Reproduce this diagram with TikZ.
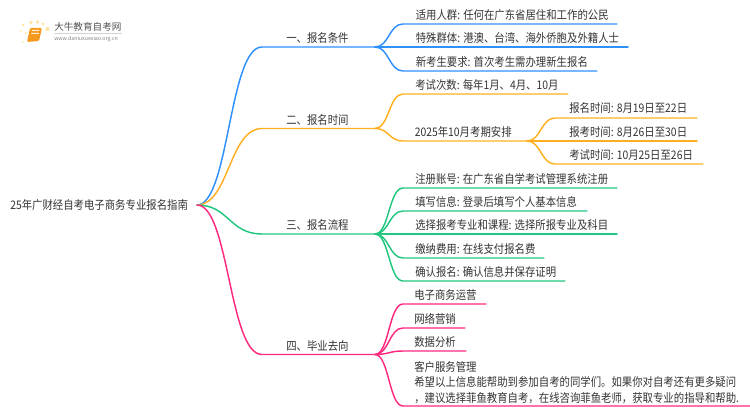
\documentclass[tikz,border=0pt]{standalone}
\usepackage{fontspec}
\setmainfont[FakeStretch=0.88]{Noto Sans CJK SC}
\newfontfamily\plainfont{Noto Sans CJK SC}
\definecolor{txt}{HTML}{333333}
\definecolor{cb}{HTML}{2F90FF}
\definecolor{co}{HTML}{FFB020}
\definecolor{cg}{HTML}{22C77F}
\definecolor{cp}{HTML}{FF2A80}
\definecolor{dot}{HTML}{FFD97A}
\definecolor{book}{HTML}{F59A1C}
\tikzset{
 lbl/.style={anchor=west,inner sep=0pt,text=txt,font=\fontsize{8.85}{11.7}\selectfont},
 wire/.style={line width=1.1pt,line cap=round}
}
\begin{document}
\begin{tikzpicture}[x=0.75pt,y=-0.75pt]
\useasboundingbox (0,0) rectangle (750,410);
% logo
\fill[dot!70] (23,25) circle (1.5) (26,33) circle (1.2) (21,31) circle (1) (31,22.5) circle (1.8) (37.5,22) circle (1.9) (43,24) circle (1.6) (47.5,29) circle (2.1) (23,42) circle (0.8);
\fill[book,rounded corners=1pt] (30,28) -- (42,28) -- (39,41) -- (27,42) -- cycle;
\fill[white!80!book] (32,30) -- (39.5,30) -- (39,31) -- (31.8,31) -- cycle (31.4,33) -- (39,33) -- (38.7,34) -- (31.2,34) -- cycle;
\draw[gray!35,line width=0.4pt] (54,33) -- (122,33);
\node[anchor=west,inner sep=0pt,text=txt!85] (logoa) at (54,27) {\fontsize{7.2}{9}\plainfont 大牛教育自考网};
\node[anchor=west,inner sep=0pt,text=gray] (logob) at (54,39) {\fontsize{3.95}{5}\plainfont www.daniuxuexiao.org.cn};
% root
\node[lbl] (root) at (10,205) {25年广财经自考电子商务专业报名指南};
\coordinate (R) at (197,205);
% branch nodes
\node[lbl] (b1) at (286,38) {一、报名条件};
\node[lbl] (b2) at (286,120) {二、报名时间};
\node[lbl] (b3) at (286,225) {三、报名流程};
\node[lbl] (b4) at (286,346) {四、毕业去向};
\foreach \n/\y in {1/47,2/128.5,3/234,4/354.5}{
 \coordinate (s\n) at (262,\y);
 \coordinate (j\n) at (375,\y);
}
\draw[wire,cb] (R) .. controls (229,205) and (229,47) .. (s1) -- (j1);
\draw[wire,co] (R) .. controls (229,205) and (229,128.5) .. (s2) -- (j2);
\draw[wire,cg] (R) .. controls (229,205) and (229,234) .. (s3) -- (j3);
\draw[wire,cp] (R) .. controls (229,205) and (229,354.5) .. (s4) -- (j4);
% group 1
\node[lbl] (a1) at (415.5,15) {适用人群: 任何在广东省居住和工作的公民};
\node[lbl] (a2) at (415.5,38) {特殊群体: 港澳、台湾、海外侨胞及外籍人士};
\node[lbl] (a3) at (415.5,62) {新考生要求: 首次考生需办理新生报名};
\coordinate (a1s) at (403,24); \coordinate (a1e) at (617,24);
\coordinate (a2e) at (628,47);
\coordinate (a3s) at (403,71); \coordinate (a3e) at (597,71);
\draw[wire,cb] (j1) .. controls (389,47) and (389,24) .. (a1s) -- (a1e);
\draw[wire,cb] (j1) -- (a2e);
\draw[wire,cb] (j1) .. controls (389,47) and (389,71) .. (a3s) -- (a3e);
% group 2
\node[lbl] (c1) at (415,85) {考试次数: 每年1月、4月、10月};
\node[lbl] (c2) at (414.5,132) {2025年10月考期安排};
\coordinate (c1s) at (403,94); \coordinate (c1e) at (568,94);
\coordinate (c2s) at (403,141); \coordinate (c2e) at (527,141);
\draw[wire,co] (j2) .. controls (389,128.5) and (389,94) .. (c1s) -- (c1e);
\draw[wire,co] (j2) .. controls (389,128.5) and (389,141) .. (c2s) -- (c2e);
\node[lbl] (d1) at (569,108.5) {报名时间: 8月19日至22日};
\node[lbl] (d2) at (569,132) {报考时间: 8月26日至30日};
\node[lbl] (d3) at (569,155) {考试时间: 10月25日至26日};
\coordinate (d1s) at (555,118); \coordinate (d1e) at (697,118);
\coordinate (d2e) at (697,141);
\coordinate (d3s) at (555,164); \coordinate (d3e) at (703,164);
\draw[wire,co] (c2e) .. controls (541,141) and (541,118) .. (d1s) -- (d1e);
\draw[wire,co] (c2e) -- (d2e);
\draw[wire,co] (c2e) .. controls (541,141) and (541,164) .. (d3s) -- (d3e);
% group 3
\node[lbl] (e1) at (415,179) {注册账号: 在广东省自学考试管理系统注册};
\node[lbl] (e2) at (415,202) {填写信息: 登录后填写个人基本信息};
\node[lbl] (e3) at (415,225) {选择报考专业和课程: 选择所报专业及科目};
\node[lbl] (e4) at (415,249) {缴纳费用: 在线支付报名费};
\node[lbl] (e5) at (415,272) {确认报名: 确认信息并保存证明};
\coordinate (e1s) at (403,188); \coordinate (e1e) at (617,188);
\coordinate (e2s) at (403,211); \coordinate (e2e) at (587,211);
\coordinate (e3e) at (617,234);
\coordinate (e4s) at (403,258); \coordinate (e4e) at (544,258);
\coordinate (e5s) at (403,281); \coordinate (e5e) at (565,281);
\draw[wire,cg] (j3) .. controls (389,234) and (389,188) .. (e1s) -- (e1e);
\draw[wire,cg] (j3) .. controls (389,234) and (389,211) .. (e2s) -- (e2e);
\draw[wire,cg] (j3) -- (e3e);
\draw[wire,cg] (j3) .. controls (389,234) and (389,258) .. (e4s) -- (e4e);
\draw[wire,cg] (j3) .. controls (389,234) and (389,281) .. (e5s) -- (e5e);
% group 4
\node[lbl] (f1) at (414,295) {电子商务运营};
\node[lbl] (f2) at (414,319) {网络营销};
\node[lbl] (f3) at (414,342) {数据分析};
\node[lbl,align=left,anchor=south west] (f4) at (414,404) {客户服务管理\\希望以上信息能帮助到参加自考的同学们。如果你对自考还有更多疑问\\，建议选择菲鱼教育自考，在线咨询菲鱼老师，获取专业的指导和帮助.};
\coordinate (f1s) at (403,304); \coordinate (f1e) at (486,304);
\coordinate (f2s) at (403,328); \coordinate (f2e) at (465,328);
\coordinate (f3s) at (403,351); \coordinate (f3e) at (466,351);
\coordinate (f4s) at (403,406); \coordinate (f4e) at (750,406);
\draw[wire,cp] (j4) .. controls (389,354.5) and (389,304) .. (f1s) -- (f1e);
\draw[wire,cp] (j4) .. controls (389,354.5) and (389,328) .. (f2s) -- (f2e);
\draw[wire,cp] (j4) .. controls (389,354.5) and (389,351) .. (f3s) -- (f3e);
\draw[wire,cp] (j4) .. controls (389,354.5) and (389,406) .. (f4s) -- (f4e);
\end{tikzpicture}
\end{document}
